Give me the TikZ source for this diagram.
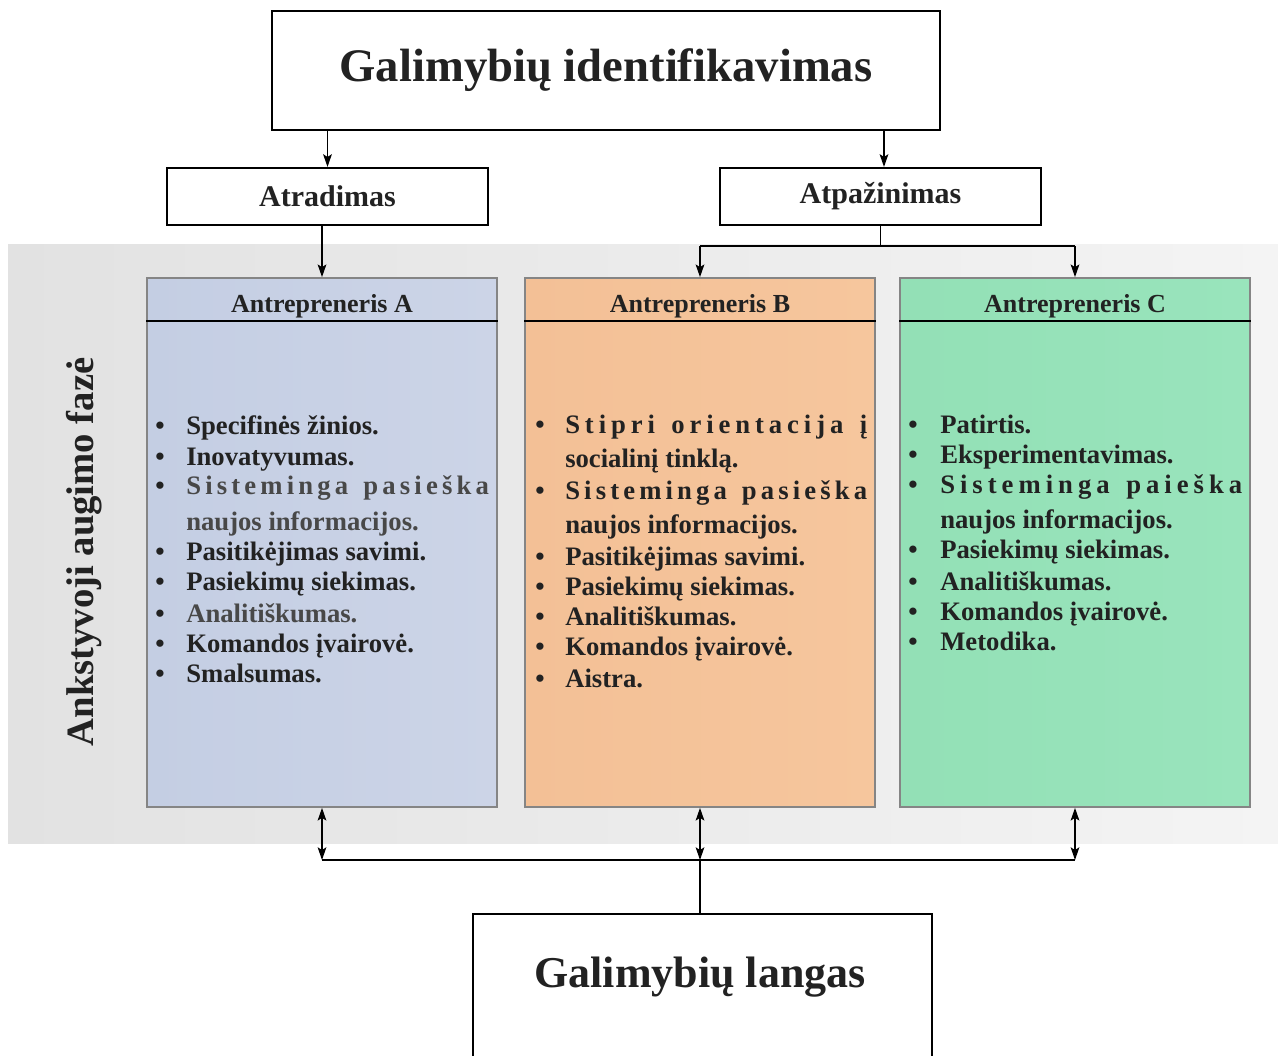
\documentclass[tikz,border=0pt]{standalone}
\usepackage{fontspec}
\setmainfont{Liberation Serif}
\usetikzlibrary{arrows.meta}
\definecolor{ink}{HTML}{222222}
\definecolor{softink}{HTML}{484848}
\definecolor{frame}{HTML}{858585}
\definecolor{bandL}{HTML}{E2E2E2}
\definecolor{bandR}{HTML}{F4F4F4}
\definecolor{aL}{HTML}{C4CEE3}
\definecolor{aR}{HTML}{CCD4E7}
\definecolor{bL}{HTML}{F3C096}
\definecolor{bR}{HTML}{F6C69D}
\definecolor{cL}{HTML}{93E0B6}
\definecolor{cR}{HTML}{99E4BC}
\newcommand\pxu{0.75pt}
% letter-spaced line of a given width
\newcommand\spreadline[2]{\hbox to #1{#2}}
\newcommand\itemfont{\fontsize{20pt}{23pt}\selectfont\bfseries}
\begin{document}
\begin{tikzpicture}[x=0.75pt,y=-0.75pt,
  box/.style={draw=black, line width=1.6pt, fill=white, inner sep=0, text=ink},
  col/.style={draw=frame, line width=1.3pt, inner sep=0, minimum width=350*\pxu, minimum height=529*\pxu},
  head/.style={anchor=base, inner sep=0, text=ink, font=\fontsize{19.5pt}{22pt}\selectfont\bfseries},
  itm/.style={anchor=base west, inner sep=0, text=ink, font=\itemfont},
  dot/.style={anchor=base, inner sep=0, text=ink, font=\itemfont},
  tip/.tip={Stealth[length=9.5pt,width=6.5pt,inset=2pt]},
  arr/.style={line width=1.1pt, -tip},
  darr/.style={line width=1.1pt, tip-tip},
  wire/.style={line width=1.1pt}]

\useasboundingbox (0,0) rectangle (1278,1056);
\clip (0,0) rectangle (1278,1056);
\fill[white] (0,0) rectangle (1278,1056);

% phase band
\shade[left color=bandL, right color=bandR] (8,244) rectangle (1278,843);

% top level
\node[box, minimum width=668*\pxu, minimum height=119*\pxu,
      font=\fontsize{35pt}{40pt}\selectfont\bfseries] (top) at (606,70.5) {Galimybių identifikavimas};
\node[box, minimum width=321*\pxu, minimum height=57*\pxu,
      font=\fontsize{22.5pt}{26pt}\selectfont\bfseries] (atr) at (327.5,196.5) {Atradimas};
\node[box, minimum width=321*\pxu, minimum height=57*\pxu,
      font=\fontsize{22.5pt}{26pt}\selectfont\bfseries] (atp) at (880.5,196.5) {Atpažinimas};

% entrepreneur columns
\node[col, left color=aL, right color=aR] (colA) at (322,542.5) {};
\node[col, left color=bL, right color=bR] (colB) at (700,542.5) {};
\node[col, left color=cL, right color=cR] (colC) at (1075,542.5) {};
\foreach \c in {colA,colB,colC}
  \draw[line width=1.4pt, black] ([yshift=-44*\pxu]\c.north west) -- ([yshift=-44*\pxu]\c.north east);

\node[head] (hA) at (322,312) {Antrepreneris A};
\node[head] (hB) at (700,312) {Antrepreneris B};
\node[head] (hC) at (1075,312) {Antrepreneris C};

% phase label
\node[rotate=90, inner sep=0, text=ink, font=\fontsize{29pt}{33pt}\selectfont\bfseries] (phase) at (84,552) {Ankstyvoji augimo fazė};

% column A
\foreach \y in {434,465,494,560,590,622,652,682} \node[dot] at (160,\y) {•};
\node[itm] (a1) at (186,434) {Specifinės žinios.};
\node[itm] (a2) at (186,465) {Inovatyvumas.};
\node[itm, text=softink] (a3) at (186,494) {\spreadline{227pt}{S\hfill i\hfill s\hfill t\hfill e\hfill m\hfill i\hfill n\hfill g\hfill a \hfill\hfill p\hfill a\hfill s\hfill i\hfill e\hfill š\hfill k\hfill a}};
\node[itm, text=softink] (a4) at (186,530) {naujos informacijos.};
\node[itm] (a5) at (186,560) {Pasitikėjimas savimi.};
\node[itm] (a6) at (186,590) {Pasiekimų siekimas.};
\node[itm, text=softink] (a7) at (186,622) {Analitiškumas.};
\node[itm] (a8) at (186,652) {Komandos įvairovė.};
\node[itm] (a9) at (186,682) {Smalsumas.};

% column B
\foreach \y in {433,499,565,595,625,655,687} \node[dot] at (540,\y) {•};
\node[itm] (b1) at (565,433) {\spreadline{226.5pt}{S\hfill t\hfill i\hfill p\hfill r\hfill i \hfill\hfill o\hfill r\hfill i\hfill e\hfill n\hfill t\hfill a\hfill c\hfill i\hfill j\hfill a \hfill\hfill į}};
\node[itm] (b2) at (565,467) {socialinį tinklą.};
\node[itm] (b3) at (565,499) {\spreadline{226.5pt}{S\hfill i\hfill s\hfill t\hfill e\hfill m\hfill i\hfill n\hfill g\hfill a \hfill\hfill p\hfill a\hfill s\hfill i\hfill e\hfill š\hfill k\hfill a}};
\node[itm] (b4) at (565,533) {naujos informacijos.};
\node[itm] (b5) at (565,565) {Pasitikėjimas savimi.};
\node[itm] (b6) at (565,595) {Pasiekimų siekimas.};
\node[itm] (b7) at (565,625) {Analitiškumas.};
\node[itm] (b8) at (565,655) {Komandos įvairovė.};
\node[itm] (b9) at (565,687) {Aistra.};

% column C
\foreach \y in {433,463,493,558,590,620,650} \node[dot] at (913,\y) {•};
\node[itm] (c1) at (940,433) {Patirtis.};
\node[itm] (c2) at (940,463) {Eksperimentavimas.};
\node[itm] (c3) at (940,493) {\spreadline{226.5pt}{S\hfill i\hfill s\hfill t\hfill e\hfill m\hfill i\hfill n\hfill g\hfill a \hfill\hfill p\hfill a\hfill i\hfill e\hfill š\hfill k\hfill a}};
\node[itm] (c4) at (940,528) {naujos informacijos.};
\node[itm] (c5) at (940,558) {Pasiekimų siekimas.};
\node[itm] (c6) at (940,590) {Analitiškumas.};
\node[itm] (c7) at (940,620) {Komandos įvairovė.};
\node[itm] (c8) at (940,650) {Metodika.};

% opportunity window
\node[box, minimum width=459*\pxu, minimum height=160*\pxu, anchor=north] (win) at (702.5,913) {};
\node[inner sep=0, anchor=base, text=ink, font=\fontsize{33pt}{38pt}\selectfont\bfseries] (winT) at (700,987) {Galimybių langas};

% connectors, top part
\draw[arr] (top.south -| atr.north) -- (atr.north);
\draw[arr] ([xshift=3.5*\pxu]top.south -| atp.north) -- ([xshift=3.5*\pxu]atp.north);
\draw[arr] (atr.south -| colA.north) -- (colA.north);
\draw[wire] (atp.south) -- ++(0,20) coordinate (split);
\draw[wire] (split -| colB.north) -- (split -| colC.north);
\draw[arr] (split -| colB.north) -- (colB.north);
\draw[arr] (split -| colC.north) -- (colC.north);

% connectors, bottom part
\coordinate (bus) at (700,860);
\draw[wire] (bus -| colA.south) -- (bus -| colC.south);
\draw[darr] (colA.south) -- (bus -| colA.south);
\draw[darr] (colB.south) -- (bus -| colB.south);
\draw[darr] (colC.south) -- (bus -| colC.south);
\draw[wire] (bus) -- (bus |- win.north);
\end{tikzpicture}
\end{document}
